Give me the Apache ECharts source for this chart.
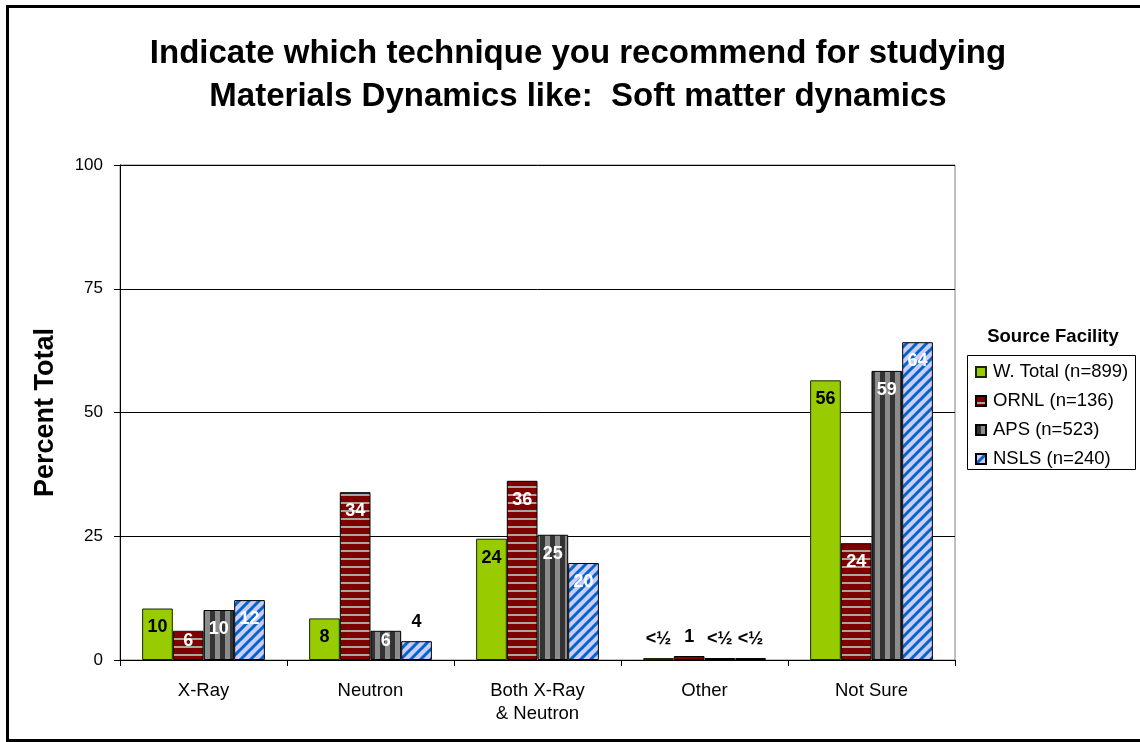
<!DOCTYPE html>
<html>
<head>
<meta charset="utf-8">
<script src="https://cdn.jsdelivr.net/npm/echarts@6/dist/echarts.min.js"></script>
<style>
html,body{margin:0;padding:0;background:#fff;}
#chart{width:1140px;height:742px;}
</style>
</head>
<body>
<div id="chart"></div>
<script>
const categories = ['X-Ray', 'Neutron', 'Both X-Ray\n& Neutron', 'Other', 'Not Sure'];
const seriesNames = ['W. Total (n=899)', 'ORNL (n=136)', 'APS (n=523)', 'NSLS (n=240)'];
const wTotal = [10.4, 8.4, 24.5, 0.4, 56.5];
const ornl = [5.9, 33.9, 36.2, 0.8, 23.6];
const aps = [10.1, 5.9, 25.3, 0.4, 58.4];
const nsls = [12.1, 3.8, 19.6, 0.4, 64.2];
const wTotalLabels = ['10', '8', '24', '<½', '56'];
const ornlLabels = ['6', '34', '36', '1', '24'];
const apsLabels = ['10', '6', '25', '<½', '59'];
const nslsLabels = ['12', '4', '20', '<½', '64'];
const yTicks = [0, 25, 50, 75, 100];

function makePattern(w, h, draw) {
  const c = document.createElement('canvas');
  c.width = w; c.height = h;
  draw(c.getContext('2d'));
  return {image: c, repeat: 'repeat'};
}
const redPattern = makePattern(8, 8, g => {
  g.fillStyle = '#800000'; g.fillRect(0, 0, 8, 8);
  g.fillStyle = '#A6A6A6'; g.fillRect(0, 6, 8, 2);
});
const grayPattern = makePattern(10, 10, g => {
  g.fillStyle = '#333333'; g.fillRect(0, 0, 10, 10);
  g.fillStyle = '#8C8C8C'; g.fillRect(5, 0, 5, 10);
});
const bluePattern = makePattern(10, 10, g => {
  g.fillStyle = '#CCCCFF'; g.fillRect(0, 0, 10, 10);
  g.strokeStyle = '#0066CC'; g.lineWidth = 3;
  g.beginPath();
  g.moveTo(-1, 11); g.lineTo(11, -1);
  g.moveTo(-6, 6); g.lineTo(6, -6);
  g.moveTo(4, 16); g.lineTo(16, 4);
  g.stroke();
});

const FONT = 'Liberation Sans, Arial, sans-serif';
const seriesValues = [wTotal, ornl, aps, nsls];
const seriesLabels = [wTotalLabels, ornlLabels, apsLabels, nslsLabels];
const fills = ['#99CC00', redPattern, grayPattern, bluePattern];

function buildData(vals, lbls, si) {
  return vals.map((v, i) => {
    let lab;
    if (v < 5) {
      lab = {position: 'top', distance: 10, color: '#000'};
    } else {
      lab = {position: 'insideTop', distance: v < 8 ? 1 : 10, color: si === 0 ? '#000' : '#fff'};
    }
    lab.formatter = lbls[i];
    return {value: v, label: lab};
  });
}

const series = seriesValues.map((vals, si) => ({
  name: seriesNames[si],
  type: 'bar',
  barGap: '0%',
  barCategoryGap: '26.5%',
  data: buildData(vals, seriesLabels[si], si),
  itemStyle: {color: fills[si], borderColor: si === 0 ? '#1a2600' : '#000', borderWidth: 1},
  emphasis: {disabled: true},
  label: {
    show: true,
    fontFamily: FONT,
    fontWeight: 'bold',
    fontSize: 18
  }
}));

const chart = echarts.init(document.getElementById('chart'), null, {renderer: 'canvas'});
chart.setOption({
  animation: false,
  backgroundColor: '#fff',
  title: [{
    text: 'Indicate which technique you recommend for studying\nMaterials Dynamics like:  Soft matter dynamics',
    left: 573, top: 27, textAlign: 'center',
    textStyle: {fontFamily: FONT, fontWeight: 'bold', fontSize: 33, lineHeight: 43, color: '#000'}
  }, {
    text: 'Source Facility',
    left: 1048, top: 322, textAlign: 'center',
    textStyle: {fontFamily: FONT, fontWeight: 'bold', fontSize: 18.5, color: '#000'}
  }],
  legend: {
    orient: 'vertical',
    left: 975, top: 362,
    itemWidth: 10, itemHeight: 10, itemGap: 9,
    icon: 'rect',
    padding: 0,
    textStyle: {fontFamily: FONT, fontSize: 18.5, color: '#000', lineHeight: 20, padding: [0, 0, 0, 2]},
    data: seriesNames
  },
  grid: {
    left: 120, right: 185, top: 165, bottom: 82,
    show: true, borderColor: '#808080', borderWidth: 1, backgroundColor: '#fff'
  },
  xAxis: {
    type: 'category',
    data: categories,
    axisLine: {lineStyle: {color: '#000', width: 1}},
    axisTick: {show: true, length: 6, lineStyle: {color: '#000'}},
    axisLabel: {fontFamily: FONT, fontSize: 18.5, color: '#000', margin: 19.5, lineHeight: 23, interval: 0}
  },
  yAxis: {
    type: 'value',
    min: yTicks[0], max: yTicks[yTicks.length - 1], interval: 25,
    name: 'Percent Total',
    nameLocation: 'middle',
    nameGap: 61,
    nameRotate: 90,
    nameTextStyle: {fontFamily: FONT, fontWeight: 'bold', fontSize: 27, color: '#000'},
    axisLine: {show: true, lineStyle: {color: '#000', width: 1}},
    axisTick: {show: true, length: 6, lineStyle: {color: '#000'}},
    axisLabel: {fontFamily: FONT, fontSize: 17, color: '#000', margin: 17},
    splitLine: {show: true, lineStyle: {color: '#000', width: 1}}
  },
  series: series,
  graphic: [{
    type: 'rect',
    shape: {x: 967.5, y: 355.5, width: 168, height: 114},
    style: {fill: null, stroke: '#000', lineWidth: 1},
    z: -1
  }, {
    type: 'rect',
    shape: {x: 7.5, y: 6.5, width: 1140, height: 734},
    style: {fill: null, stroke: '#000', lineWidth: 3},
    z: 100
  }]
});
</script>
</body>
</html>
